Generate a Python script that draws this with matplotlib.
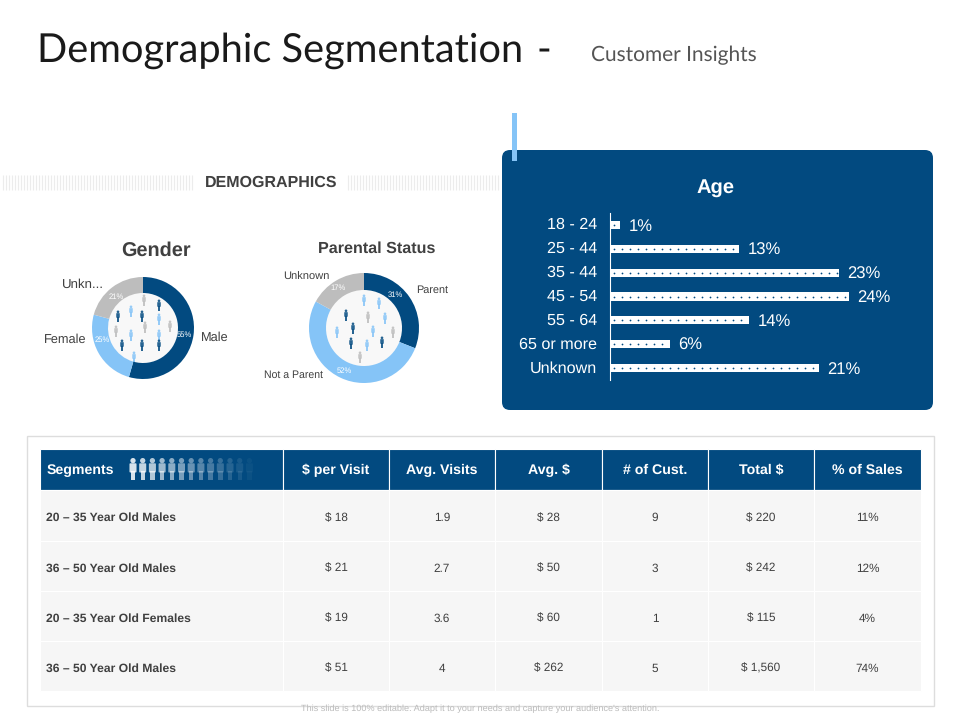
import numpy as np
import matplotlib
matplotlib.use("Agg")
import matplotlib.pyplot as plt
from matplotlib.patches import Circle, FancyBboxPatch, Rectangle
from matplotlib.transforms import ScaledTranslation

# Data
gender_labels = ["Male", "Female", "Unkn..."]
gender_values = [55, 25, 21]
parent_labels = ["Parent", "Not a Parent", "Unknown"]
parent_values = [31, 52, 17]
age_groups = ["18 - 24", "25 - 44", "35 - 44", "45 - 54", "55 - 64", "65 or more", "Unknown"]
age_values = [1, 13, 23, 24, 14, 6, 21]
table_header = ["Segments", "$ per Visit", "Avg. Visits", "Avg. $", "# of Cust.", "Total $", "% of Sales"]
segments = ["20 \u2013 35 Year Old Males", "36 \u2013 50 Year Old Males",
            "20 \u2013 35 Year Old Females", "36 \u2013 50 Year Old Males"]
per_visit = ["$ 18", "$ 21", "$ 19", "$ 51"]
avg_visits = ["1.9", "2.7", "3.6", "4"]
avg_spend = ["$ 28", "$ 50", "$ 60", "$ 262"]
num_cust = ["9", "3", "1", "5"]
total_spend = ["$ 220", "$ 242", "$ 115", "$ 1,560"]
pct_sales = ["11%", "12%", "4%", "74%"]

NAVY = "#024a80"
LIGHT = "#85c4f7"
GREY = "#bdbdbd"
TEXT = "#404040"
W, H = 960, 720

plt.rcParams["font.family"] = "Liberation Sans"
plt.rcParams["text.hinting"] = "no_hinting"
fig = plt.figure(figsize=(9.6, 7.2), dpi=100)

# background axes in pixel units, everything decorative goes here
bg = fig.add_axes([0, 0, 1, 1], zorder=0)
bg.set_xlim(0, W)
bg.set_ylim(H, 0)
bg.axis("off")


def px_axes(x0, y0, x1, y1):
    # axes placed by pixel box (y from the top)
    ax = fig.add_axes([x0 / W, 1 - y1 / H, (x1 - x0) / W, (y1 - y0) / H], zorder=1)
    ax.patch.set_alpha(0)
    return ax


def person(x, y, h, color, alpha=1.0):
    # tiny figure: head plus body, (x, y) is the middle
    bg.add_patch(Circle((x, y - h * 0.38), h * 0.12, color=color, alpha=alpha, lw=0))
    bg.add_patch(FancyBboxPatch((x - h * 0.12, y - h * 0.22), h * 0.24, h * 0.34,
                                boxstyle=f"round,pad={h * 0.04}", color=color, alpha=alpha, lw=0))
    bg.add_patch(Rectangle((x - h * 0.1, y + h * 0.1), h * 0.2, h * 0.4, color=color, alpha=alpha, lw=0))


# title
bg.text(37, 51, "Demographic Segmentation", fontsize=28.6, family="Lato", color="#1a1a1a", va="center")
bg.text(537, 51, "-", fontsize=28.6, family="Lato", color="#1a1a1a", va="center")
bg.text(591, 55, "Customer Insights", fontsize=15, family="Lato", color="#555555", va="center")

# demographics band
bg.vlines(np.arange(3, 194, 3), 175, 190, color="#ececec", lw=0.8)
bg.vlines(np.arange(348, 499, 3), 175, 190, color="#ececec", lw=0.8)
bg.text(271, 183, "DEMOGRAPHICS", fontsize=11.5, fontweight="bold", color=TEXT, ha="center", va="center")

# age panel
bg.add_patch(FancyBboxPatch((508, 156), 419, 248, boxstyle="round,pad=6,rounding_size=8", fc=NAVY, ec="none"))
bg.add_patch(Rectangle((512, 113), 5, 48, color=LIGHT, lw=0))
bg.text(716, 189, "Age", fontsize=14.5, fontweight="bold", color="white", ha="center", va="center")

ax = px_axes(610, 213, 930, 380)
ax.set_xlim(0, 320 / 9.95)
y_pos = np.arange(len(age_groups))
bars = ax.barh(y_pos, age_values, height=0.34, color="white", lw=0)
# tiny dots along each bar
for y, v in zip(y_pos, age_values):
    dots = np.arange(0.4, v, 0.8)
    ax.scatter(dots, np.full(len(dots), y), s=1.6, color=NAVY, lw=0)
ax.set_ylim(6.5, -0.5)
ax.set_yticks(y_pos, age_groups, fontsize=11.6, color="white", va="center_baseline")
ax.tick_params(axis="y", length=0, pad=9.5)
ax.xaxis.set_visible(False)
for name in ["top", "right", "bottom"]:
    ax.spines[name].set_visible(False)
ax.spines["left"].set_color("white")
ax.spines["left"].set_linewidth(0.8)
nudge_up = ScaledTranslation(0, 1.5 / 100, fig.dpi_scale_trans)
for t in ax.get_yticklabels():
    t.set_transform(t.get_transform() + nudge_up)
for y, v in zip(y_pos, age_values):
    ax.annotate(f"{v}%", (v, y), xytext=(6, -1), textcoords="offset points", fontsize=12,
                color="white", va="center")

# donuts: values, centre, radii, nudges (px) for the percent labels
donuts = [
    (gender_values, (143, 328), 51, 35, [(-1, 1), (-3, -9), (-1, 3)]),
    (parent_values, (364, 328), 55, 38, [(-7, -7), (0, 1), (-2, 0)]),
]
for values, (cx, cy), r, r_in, nudges in donuts:
    bg.add_patch(Circle((cx, cy), r_in, color="#f8f8f8", lw=0))
    pie_ax = px_axes(cx - r, cy - r, cx + r, cy + r)
    wedges, _ = pie_ax.pie(values, colors=[NAVY, LIGHT, GREY], startangle=90, counterclock=False,
                           radius=1, wedgeprops={"width": 1 - r_in / r})
    pie_ax.set_xlim(-1, 1)
    pie_ax.set_ylim(-1, 1)
    mid_r = (1 + r_in / r) / 2
    for w, v, (dx, dy) in zip(wedges, values, nudges):
        a = np.deg2rad((w.theta1 + w.theta2) / 2)
        pie_ax.text(mid_r * np.cos(a) + dx / r, mid_r * np.sin(a) - dy / r, f"{v}%", fontsize=5.5,
                    color="white", ha="center", va="center")

bg.text(156, 251, "Gender", fontsize=14.3, fontweight="bold", color=TEXT, ha="center", va="center")
bg.text(377, 249, "Parental Status", fontsize=11.6, fontweight="bold", color=TEXT, ha="center", va="center")

bg.text(201, 338, gender_labels[0], fontsize=9.2, color=TEXT, va="center")
bg.text(44, 340, gender_labels[1], fontsize=9.2, color=TEXT, va="center")
bg.text(62, 285, gender_labels[2], fontsize=9.5, color=TEXT, va="center")
bg.text(416, 290, parent_labels[0], fontsize=7.8, color=TEXT, va="center")
bg.text(264, 375, parent_labels[1], fontsize=7.6, color=TEXT, va="center")
bg.text(283, 277, parent_labels[2], fontsize=8, color=TEXT, va="center")

# people inside the donuts
gender_icons = [(118, 316, NAVY), (131, 311, LIGHT), (142, 316, NAVY), (144, 300, GREY), (159, 305, NAVY),
                (159, 319, LIGHT), (145, 327, GREY), (170, 326, GREY), (116, 331, GREY), (131, 335, LIGHT),
                (159, 335, LIGHT), (122, 345, NAVY), (142, 345, NAVY), (159, 345, NAVY), (134, 357, LIGHT)]
parent_icons = [(364, 300, LIGHT), (379, 303, LIGHT), (346, 315, NAVY), (368, 317, GREY), (385, 318, LIGHT),
                (353, 328, NAVY), (337, 332, LIGHT), (373, 331, LIGHT), (393, 332, GREY), (351, 343, NAVY),
                (367, 345, LIGHT), (382, 342, NAVY), (360, 357, GREY)]
for x, y, c in gender_icons + parent_icons:
    person(x, y, 11, c, alpha=0.85)

# table
bg.add_patch(Rectangle((27, 436), 907, 270, fc="white", ec="#dddddd", lw=1))
col_edges = [40, 283, 389, 495, 602, 708, 814, 921]
row_edges = [490, 541, 591, 641, 691]
columns = [segments, per_visit, avg_visits, avg_spend, num_cust, total_spend, pct_sales]

for i, label in enumerate(table_header):
    x0, x1 = col_edges[i], col_edges[i + 1]
    bg.add_patch(Rectangle((x0, 449), x1 - x0, 41, fc=NAVY, ec="white", lw=0.8))
    if i == 0:
        bg.text(47, 474, label, fontsize=10.2, fontweight="bold", color="white", va="baseline")
    else:
        bg.text((x0 + x1) / 2, 474, label, fontsize=10.2, fontweight="bold", color="white",
                ha="center", va="baseline")

for k in range(13):
    person(133 + k * 9.7, 469, 22, "white", alpha=0.85 * (1 - k / 13) ** 1.2)

for r in range(len(segments)):
    y0, y1 = row_edges[r], row_edges[r + 1]
    for i, col in enumerate(columns):
        x0, x1 = col_edges[i], col_edges[i + 1]
        bg.add_patch(Rectangle((x0, y0), x1 - x0, y1 - y0, fc="#f6f6f6", ec="white", lw=0.8))
        if i == 0:
            bg.text(46, (y0 + y1) / 2 + 5.5, col[r], fontsize=8.7, fontweight="bold", color=TEXT, va="baseline")
        else:
            bg.text((x0 + x1) / 2, (y0 + y1) / 2 + 5.5, col[r], fontsize=8.5, color=TEXT, ha="center",
                    va="baseline")

bg.text(480, 709, "This slide is 100% editable. Adapt it to your needs and capture your audience's attention.",
        fontsize=6.6, color="#bbbbbb", ha="center", va="center")

fig.savefig("out.png", dpi=100)
